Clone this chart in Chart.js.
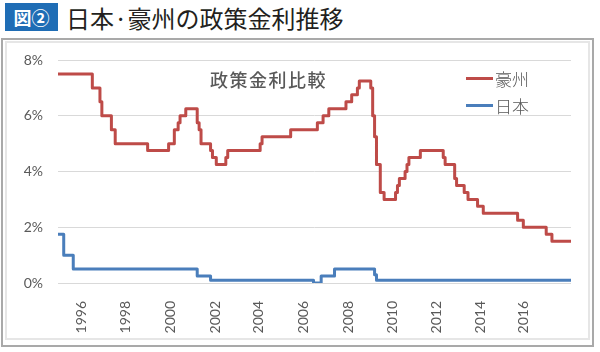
<!DOCTYPE html>
<html lang="ja">
<head>
<meta charset="utf-8">
<title>日本·豪州の政策金利推移</title>
<script src="https://cdn.jsdelivr.net/npm/chart.js@4.4.1/dist/chart.umd.min.js"></script>
<style>
  html, body { margin: 0; padding: 0; background: #fff; }
  #page { position: relative; width: 600px; height: 352px; overflow: hidden; font-family: 'Noto Sans CJK JP', sans-serif; }
  #fig-no { position: absolute; left: 5px; top: 3px; width: 53px; height: 28px; background: #1f6db5; color: #fff;
            font-weight: bold; font-size: 18px; line-height: 28px; text-align: center; }
  #fig-title { position: absolute; left: 66px; top: 1px; font-size: 24px; line-height: 34px; color: #231f20; white-space: nowrap; }
  #frame-outer { position: absolute; left: 1px; top: 38px; width: 589px; height: 305px; border: 2px solid #a9a9a9; }
  #frame-inner { position: absolute; left: 5px; top: 41px; width: 581px; height: 295px; border: 2px solid #e6e6e6; }
  #chart { position: absolute; left: 0; top: 0; }
  #chart-title { position: absolute; left: 210px; top: 70px; font-size: 18px; line-height: 18px; letter-spacing: 1.5px;
                 font-weight: 500; color: #595959; white-space: nowrap; }
  .legend-row { position: absolute; left: 466px; height: 27px; display: flex; align-items: center; }
  .legend-line { width: 27px; height: 3px; margin-right: 2px; }
  .legend-text { font-size: 17px; line-height: 27px; font-weight: 300; color: #595959; }
</style>
</head>
<body>
<div id="page">
  <div id="fig-no">図②</div>
  <div id="fig-title">日本·豪州の政策金利推移</div>
  <div id="frame-outer"></div>
  <div id="frame-inner"></div>
  <canvas id="chart" width="600" height="352"></canvas>
  <div id="chart-title">政策金利比較</div>
  <div id="legend"></div>
</div>
<script>
// policy rate change points (month the new rate applies, rate in %)
const MONTHS_AU = ['1995-01', '1996-07', '1996-11', '1996-12', '1997-05', '1997-07', '1998-12', '1999-11',
    '2000-02', '2000-04', '2000-05', '2000-08', '2001-02', '2001-03', '2001-04', '2001-09', '2001-10', '2001-12',
    '2002-05', '2002-06', '2003-11', '2003-12', '2005-03', '2006-05', '2006-08', '2006-11', '2007-08', '2007-11',
    '2008-02', '2008-03', '2008-09', '2008-10', '2008-11', '2008-12', '2009-02', '2009-04', '2009-10', '2009-11',
    '2009-12', '2010-03', '2010-04', '2010-05', '2010-11', '2011-11', '2011-12', '2012-05', '2012-06', '2012-10',
    '2012-12', '2013-05', '2013-08', '2015-02', '2015-05', '2016-05', '2016-08', '2017-06'];
const RATES_AU = [7.5, 7.0, 6.5, 6.0, 5.5, 5.0, 4.75, 5.0,
    5.5, 5.75, 6.0, 6.25, 5.75, 5.5, 5.0, 4.75, 4.5, 4.25,
    4.5, 4.75, 5.0, 5.25, 5.5, 5.75, 6.0, 6.25, 6.5, 6.75,
    7.0, 7.25, 7.0, 6.0, 5.25, 4.25, 3.25, 3.0, 3.25, 3.5,
    3.75, 4.0, 4.25, 4.5, 4.75, 4.5, 4.25, 3.75, 3.5, 3.25,
    3.0, 2.75, 2.5, 2.25, 2.0, 1.75, 1.5, 1.5];

const MONTHS_JP = ['1995-01', '1995-04', '1995-09', '2001-02', '2001-09', '2006-03', '2006-07', '2007-02',
    '2008-11', '2008-12', '2017-06'];
const RATES_JP = [1.75, 1.0, 0.5, 0.25, 0.1, 0.0, 0.25, 0.5, 0.3, 0.1, 0.1];

const SERIES_NAMES = ['豪州', '日本'];
const SERIES_COLORS = ['#be4b48', '#4a7ebb'];

const X_MIN = '1995-01';
const X_MAX = '2017-06';
// labels sit where the original axis put them
const X_TICK_AT = [1996.04, 1997.97, 1999.9, 2001.86, 2003.74, 2005.71, 2007.68, 2009.6, 2011.52, 2013.44, 2015.32];
const X_TICK_LABELS = ['1996', '1998', '2000', '2002', '2004', '2006', '2008', '2010', '2012', '2014', '2016'];
const Y_TICKS = [0, 2, 4, 6, 8];

function toYear(ym) {
    const [y, m] = ym.split('-').map(Number);
    return y + (m - 1) / 12;
}

function toPoints(months, rates) {
    return months.map((m, i) => ({ x: toYear(m), y: rates[i] }));
}

const tickFont = { family: 'Lato, sans-serif', size: 14 };

const chart = new Chart(document.getElementById('chart'), {
    type: 'line',
    data: {
        datasets: [
            { label: SERIES_NAMES[0], data: toPoints(MONTHS_AU, RATES_AU), borderColor: SERIES_COLORS[0] },
            { label: SERIES_NAMES[1], data: toPoints(MONTHS_JP, RATES_JP), borderColor: SERIES_COLORS[1] }
        ]
    },
    options: {
        responsive: false,
        animation: false,
        layout: { padding: { left: 18, right: 29, top: 60, bottom: 14 } },
        elements: {
            line: { borderWidth: 3, stepped: true, borderJoinStyle: 'round', borderCapStyle: 'round' },
            point: { radius: 0 }
        },
        plugins: { legend: { display: false }, title: { display: false }, tooltip: { enabled: false } },
        scales: {
            x: {
                type: 'linear',
                min: toYear(X_MIN),
                max: toYear(X_MAX),
                afterFit: (scale) => { scale.height = 55; },
                afterBuildTicks: (scale) => { scale.ticks = X_TICK_AT.map(v => ({ value: v })); },
                grid: { display: false },
                border: { display: false },
                ticks: {
                    autoSkip: false,
                    minRotation: 90,
                    maxRotation: 90,
                    padding: 10,
                    color: '#595959',
                    font: tickFont,
                    callback: (v, i) => X_TICK_LABELS[i]
                }
            },
            y: {
                min: Y_TICKS[0],
                max: Y_TICKS[Y_TICKS.length - 1],
                afterFit: (scale) => { scale.width = 40; },
                afterBuildTicks: (scale) => { scale.ticks = Y_TICKS.map(v => ({ value: v })); },
                grid: { color: '#d9d9d9', lineWidth: 1, drawTicks: false },
                border: { display: false },
                ticks: {
                    padding: 15,
                    color: '#595959',
                    font: tickFont,
                    callback: (v) => v + '%'
                }
            }
        }
    }
});

// legend built from the datasets, placed over the plot like the original
const legendEl = document.getElementById('legend');
chart.data.datasets.forEach((ds, i) => {
    const row = document.createElement('div');
    row.className = 'legend-row';
    row.style.top = (65 + i * 27.4) + 'px';
    row.innerHTML = `<span class="legend-line" style="background:${ds.borderColor}"></span>` +
                    `<span class="legend-text">${ds.label}</span>`;
    legendEl.appendChild(row);
});
</script>
</body>
</html>
